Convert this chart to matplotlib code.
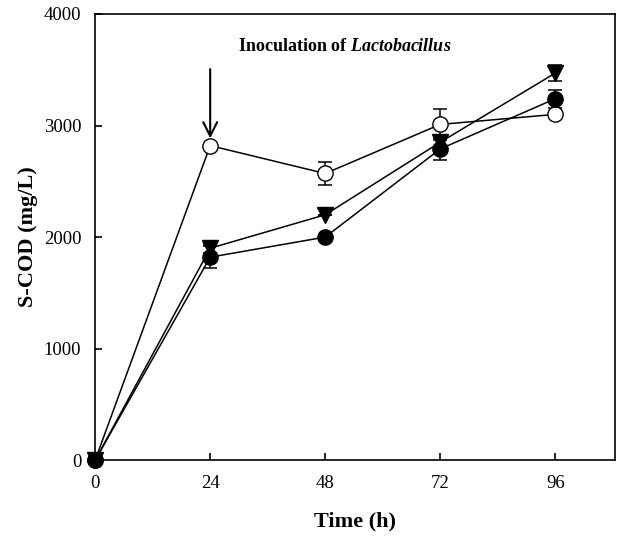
import matplotlib
matplotlib.use("Agg")
import matplotlib.pyplot as plt

plt.rcParams['font.family'] = ['Liberation Serif', 'DejaVu Serif']
plt.rcParams['mathtext.fontset'] = 'custom'
plt.rcParams['mathtext.it'] = 'Liberation Serif:bold:italic'
plt.rcParams['mathtext.rm'] = 'Liberation Serif:bold'

time_h = [0, 24, 48, 72, 96]

open_circle = [0, 2820, 2570, 3010, 3100]
open_circle_err = [0, 0, 100, 140, 0]

filled_tri = [0, 1900, 2200, 2850, 3470]
filled_tri_err = [0, 40, 0, 60, 70]

filled_circle = [0, 1820, 2000, 2790, 3240]
filled_circle_err = [0, 100, 0, 100, 80]

fig = plt.figure(figsize=(6.22, 5.37), dpi=100)
ax = fig.add_axes([0.153, 0.143, 0.836, 0.831])

kw = dict(color='black', lw=1.1, capsize=5, elinewidth=1.1, capthick=1.1,
          clip_on=False, zorder=3)
ax.errorbar(time_h, open_circle, yerr=open_circle_err, marker='o', ms=11,
            mfc='white', mec='black', **kw)
ax.errorbar(time_h, filled_circle, yerr=filled_circle_err, marker='o', ms=11,
            mfc='black', mec='black', **kw)
ax.errorbar(time_h, filled_tri, yerr=filled_tri_err, marker='v', ms=11,
            mfc='black', mec='black', **kw)

ax.annotate('', xy=(24, 2860), xytext=(24, 3530),
            arrowprops=dict(arrowstyle='->', color='black', lw=1.5,
                            mutation_scale=25))
ax.text(52, 3710, 'Inoculation of $\\mathit{Lactobacillus}$',
        ha='center', va='center', fontsize=13, fontweight='bold')

ax.set_xlim(0, 108.5)
ax.set_ylim(0, 4000)
ax.set_xticks([0, 24, 48, 72, 96])
ax.set_yticks([0, 1000, 2000, 3000, 4000])
ax.tick_params(direction='in', length=5, width=1.2, labelsize=13.5)
ax.tick_params(axis='x', pad=11)
ax.tick_params(axis='y', pad=10)
for s in ax.spines.values():
    s.set_linewidth(1.2)

ax.set_xlabel('Time (h)', fontsize=16, fontweight='bold', labelpad=14)
ax.set_ylabel('S-COD (mg/L)', fontsize=16, fontweight='bold', labelpad=4)

fig.savefig('out.png', dpi=100)
